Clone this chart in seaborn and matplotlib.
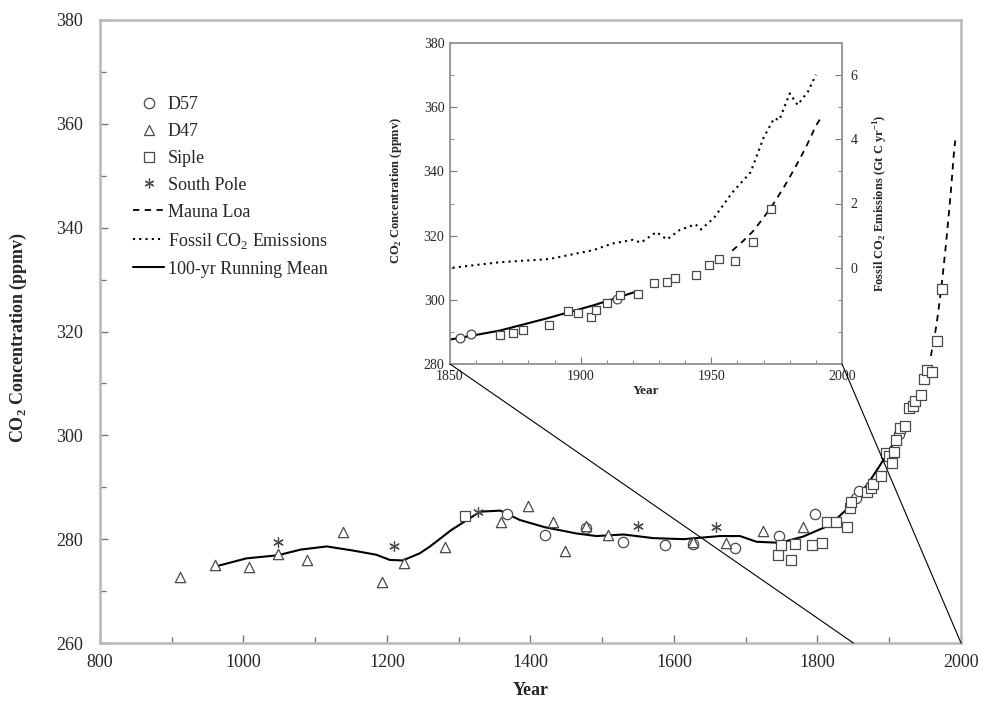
import numpy as np
import pandas as pd
import matplotlib
matplotlib.use("Agg")
import matplotlib.pyplot as plt
import seaborn as sns
from matplotlib.lines import Line2D
from matplotlib.patches import ConnectionPatch
from matplotlib.ticker import MultipleLocator

# ---------------- data ----------------
d57_year = [1367, 1420, 1478, 1529, 1587, 1627, 1685, 1747, 1797, 1854, 1858, 1914]
d57_ppm = [284.9, 280.8, 282.1, 279.5, 278.9, 279.1, 278.3, 280.6, 284.9, 288.0, 289.3, 300.2]

d47_year = [911, 960, 1007, 1048, 1089, 1138, 1193, 1224, 1281, 1359, 1397, 1431,
            1448, 1478, 1508, 1627, 1673, 1724, 1780]
d47_ppm = [272.8, 275.0, 274.7, 277.1, 275.9, 281.4, 271.8, 275.5, 278.4, 283.3, 286.4, 283.3,
           277.8, 282.5, 280.8, 279.5, 279.2, 281.6, 282.4]

siple_year = [1309, 1745, 1749, 1763, 1769, 1792, 1806, 1813, 1826, 1841, 1845, 1847,
              1869, 1874, 1878, 1888, 1895, 1899, 1904, 1906, 1910, 1915, 1922, 1928,
              1933, 1936, 1944, 1949, 1953, 1959, 1966, 1973]
siple_ppm = [284.5, 277.0, 278.9, 276.0, 279.1, 278.9, 279.3, 283.4, 283.4, 282.4, 286.0, 287.2,
             289.0, 289.8, 290.6, 292.2, 296.6, 296.0, 294.7, 296.8, 299.1, 301.5, 301.8, 305.3,
             305.6, 306.7, 307.7, 310.8, 312.6, 312.2, 318.1, 328.2]

spole_year = [1048, 1210, 1327, 1550, 1659]
spole_ppm = [279.5, 278.6, 285.2, 282.5, 282.3]

mlo_year = [1958, 1962, 1966, 1970, 1974, 1978, 1982, 1986, 1990, 1992]
mlo_ppm = [315.3, 318.2, 321.4, 325.6, 330.2, 335.4, 341.1, 347.2, 354.2, 356.8]

fossil_year = [1851, 1869, 1888, 1897, 1905, 1912, 1920, 1923, 1929, 1933, 1938, 1944,
               1946, 1951, 1958, 1965, 1970, 1974, 1976, 1980, 1983, 1987, 1990]
fossil_gtc = [0.0, 0.17, 0.27, 0.42, 0.55, 0.75, 0.87, 0.78, 1.11, 0.88, 1.18, 1.35,
              1.19, 1.55, 2.34, 2.97, 4.05, 4.65, 4.60, 5.43, 5.07, 5.49, 6.01]

mean_year = [960, 1004, 1048, 1080, 1116, 1153, 1185, 1204, 1222, 1246, 1260, 1290,
             1330, 1358, 1385, 1420, 1464, 1492, 1530, 1571, 1613, 1664, 1692, 1715,
             1748, 1780, 1817, 1845, 1850, 1869, 1887, 1905, 1921]
mean_ppm = [274.7, 276.3, 276.9, 278.0, 278.6, 277.8, 277.0, 276.0, 275.9, 277.3, 278.6, 281.8,
            285.3, 285.5, 283.7, 282.3, 281.1, 280.6, 280.9, 280.2, 280.0, 280.6, 280.6, 279.5,
            279.3, 280.5, 282.7, 286.3, 287.6, 290.4, 294.2, 298.3, 302.5]

main_xticks = [800, 1000, 1200, 1400, 1600, 1800, 2000]
main_yticks = [260, 280, 300, 320, 340, 360, 380]
inset_xticks = [1850, 1900, 1950, 2000]
inset_yticks = [280, 300, 320, 340, 360, 380]
inset_rticks = [0, 2, 4, 6]

# ---------------- style ----------------
sns.set_style("ticks")
plt.rcParams['font.family'] = ['Liberation Serif', 'DejaVu Serif']
plt.rcParams['mathtext.fontset'] = 'custom'
plt.rcParams['mathtext.rm'] = 'Liberation Serif'
plt.rcParams['mathtext.bf'] = 'Liberation Serif:bold'

EDGE = '#4a4a4a'
SPINE = '#b8b8b8'

d57 = pd.DataFrame({'year': d57_year, 'ppm': d57_ppm})
d47 = pd.DataFrame({'year': d47_year, 'ppm': d47_ppm})
siple = pd.DataFrame({'year': siple_year, 'ppm': siple_ppm})
spole = pd.DataFrame({'year': spole_year, 'ppm': spole_ppm})
mlo = pd.DataFrame({'year': mlo_year, 'ppm': mlo_ppm})
fossil = pd.DataFrame({'year': fossil_year, 'gtc': fossil_gtc})
mean = pd.DataFrame({'year': mean_year, 'ppm': mean_ppm})

fig = plt.figure(figsize=(9.83, 7.04), dpi=100)
W, H = 983.0, 704.0
ax = fig.add_axes([100 / W, 1 - 643 / H, 861 / W, 623 / H])
axin = fig.add_axes([450 / W, 1 - 364 / H, 392 / W, 321 / H])


def draw_series(a, msize):
    sns.lineplot(data=mean, x='year', y='ppm', ax=a, color='black', lw=1.5,
                 estimator=None, sort=False, zorder=3)
    sns.lineplot(data=mlo, x='year', y='ppm', ax=a, color='black', lw=1.3,
                 estimator=None, sort=False, zorder=3, linestyle=(0, (3.5, 3)))
    sns.scatterplot(data=d57, x='year', y='ppm', ax=a, marker='o', s=msize,
                    facecolor='white', edgecolor=EDGE, linewidth=0.9, zorder=4)
    sns.scatterplot(data=d47, x='year', y='ppm', ax=a, marker='^', s=msize,
                    facecolor='white', edgecolor=EDGE, linewidth=0.9, zorder=4)
    sns.scatterplot(data=siple, x='year', y='ppm', ax=a, marker='s', s=msize * 0.8,
                    facecolor='white', edgecolor=EDGE, linewidth=0.9, zorder=4)
    sns.scatterplot(data=spole, x='year', y='ppm', ax=a, marker=(6, 2, 0), s=msize * 0.9,
                    color=EDGE, linewidth=0.9, zorder=4)


# ---------------- main axes ----------------
draw_series(ax, 55)
ax.set_xlim(800, 2000)
ax.set_ylim(260, 380)
ax.set_xticks(main_xticks)
ax.set_yticks(main_yticks)
ax.xaxis.set_minor_locator(MultipleLocator(100))
ax.yaxis.set_minor_locator(MultipleLocator(10))
ax.tick_params(which='both', direction='in', color='#777777', labelsize=13)
ax.tick_params(which='major', length=6, width=1)
ax.tick_params(which='minor', length=4, width=1)
ax.tick_params(axis='y', pad=12)
ax.tick_params(axis='x', pad=8)
for s in ax.spines.values():
    s.set_color(SPINE)
    s.set_linewidth(1.8)
ax.set_xlabel('Year', fontsize=13, fontweight='bold')
ax.set_ylabel(r'CO$_\mathbf{2}$ Concentration (ppmv)', fontsize=13, fontweight='bold')
ax.xaxis.set_label_coords(0.5, -0.062)
ax.yaxis.set_label_coords(-0.082, 0.49)

handles = [
    Line2D([], [], ls='none', marker='o', ms=7.5, mfc='white', mec=EDGE, mew=0.9),
    Line2D([], [], ls='none', marker='^', ms=7.5, mfc='white', mec=EDGE, mew=0.9),
    Line2D([], [], ls='none', marker='s', ms=6.5, mfc='white', mec=EDGE, mew=0.9),
    Line2D([], [], ls='none', marker=(6, 2, 0), ms=7, color=EDGE, mew=0.9),
    Line2D([], [], color='black', lw=1.3, ls=(0, (3.5, 3))),
    Line2D([], [], color='black', lw=1.5, ls=(0, (1, 2))),
    Line2D([], [], color='black', lw=1.5),
]
labels = ['D57', 'D47', 'Siple', 'South Pole', 'Mauna Loa',
          r'Fossil CO$_2$ Emissions', '100-yr Running Mean']
ax.legend(handles, labels, loc='upper left', bbox_to_anchor=(0.038, 0.878),
          frameon=False, fontsize=13, borderpad=0, handlelength=1.75,
          handletextpad=0.2, labelspacing=0.55, borderaxespad=0)

# ---------------- inset ----------------
axin.set_facecolor('white')
draw_series(axin, 40)
axin.set_xlim(1850, 2000)
axin.set_ylim(280, 380)
axin.set_xticks(inset_xticks)
axin.set_yticks(inset_yticks)
axin.xaxis.set_minor_locator(MultipleLocator(10))
axin.yaxis.set_minor_locator(MultipleLocator(10))
axin.tick_params(which='both', direction='in', color='#777777', labelsize=10, pad=4)
axin.tick_params(which='major', length=5)
axin.tick_params(which='minor', length=3)
for s in axin.spines.values():
    s.set_color('#999999')
    s.set_linewidth(1.2)
axin.set_xlabel('Year', fontsize=9.5, fontweight='bold', labelpad=2)
axin.set_ylabel(r'CO$_\mathbf{2}$ Concentration (ppmv)', fontsize=9, fontweight='bold')
axin.yaxis.set_label_coords(-0.118, 0.54)

axr = axin.twinx()
sns.lineplot(data=fossil, x='year', y='gtc', ax=axr, color='black', lw=1.5,
             estimator=None, sort=False, linestyle=(0, (1, 2)))
axr.set_ylim(-3, 7)
axr.set_yticks(inset_rticks)
axr.yaxis.set_minor_locator(MultipleLocator(1))
axr.tick_params(which='both', direction='in', color='#777777', labelsize=10, pad=6)
axr.tick_params(which='major', length=5)
axr.tick_params(which='minor', length=3)
for s in axr.spines.values():
    s.set_color('#999999')
    s.set_linewidth(1.2)
axr.set_ylabel(r'Fossil CO$_\mathbf{2}$ Emissions (Gt C yr$^{\mathbf{-1}}$)',
               fontsize=9, fontweight='bold')
axr.yaxis.set_label_coords(1.075, 0.5)

# pointer lines from the inset corners to the main axis
for yr in (1850, 2000):
    con = ConnectionPatch(xyA=(yr, 280), coordsA=axin.transData,
                          xyB=(yr, 260), coordsB=ax.transData,
                          color='black', lw=0.8)
    fig.add_artist(con)

fig.savefig('out.png', dpi=100)
